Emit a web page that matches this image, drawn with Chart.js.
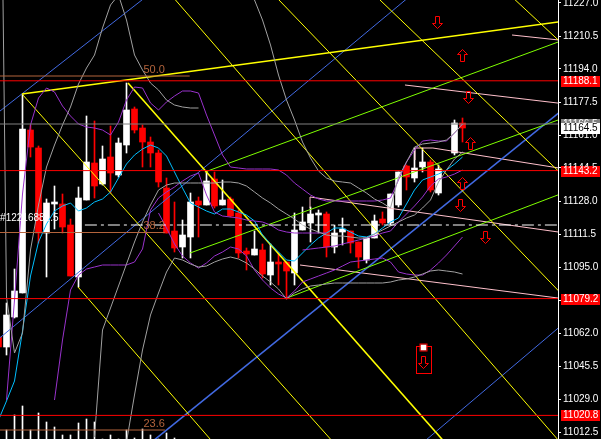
<!DOCTYPE html>
<html>
<head>
<meta charset="utf-8">
<script src="https://cdn.jsdelivr.net/npm/chart.js@4/dist/chart.umd.min.js"></script>
<style>
  html, body { margin: 0; padding: 0; background: #000; }
  #wrap { width: 601px; height: 439px; }
</style>
</head>
<body>
<div id="wrap"><canvas id="c" width="601" height="439"></canvas></div>
<script>
// candles, first one is index -1 (cut by the left edge)
const FIRST = -1;
const opens  = [11060,11055,11070,11082,11163.5,11154.5,11112,11126.5,11126.5,11116,11090,11128.5,11147,11136.5,11150,11141,11156,11174,11164.5,11157.5,11152,11134.5,11113,11105,11110,11128,11126,11139,11126,11129,11122,11103,11101,11103.5,11091,11097.5,11097.5,11092,11113.5,11117,11121,11121.5,11105,11112.5,11113,11107.5,11098.5,11109.5,11119,11117,11126,11145.5,11139.5,11145,11147.5,11132,null,11152,11167];
const highs  = [11061.5,11077,11094,11181.5,11166,11155.5,11129,11135.5,11131.5,11119,11135,11170.5,11168,11155.5,11165.5,11159.5,11187,11175,11166,11160,11153.5,11139.5,11127.5,11118.5,11132,11130,11143,11142.5,11138.5,11130,11123.5,11104.5,11113,11106.5,11106.5,11102,11097.5,11122,11125,11125,11123.5,11122.5,11116,11119.5,11113,11107.5,11109.5,11121,11122.5,11131.5,11142.5,11146,11154.5,11154.5,11148.5,11146,null,11168.5,11169.5];
const lows   = [11053.5,11051,11069.5,11082,11150,11107,11090,11114,11112,11090.5,11085,11128.5,11129.5,11136,11132,11140,11152,11162,11145,11145,11135,11112,11102.5,11099.5,11099.5,11110,11126,11124.5,11126,11120,11099.5,11093.5,11101,11089.5,11086,11086,11079,11086,11113.5,11107.5,11112,11100,11102,11106,11102,11094.5,11097,11109.5,11116,11116,11125,11133.5,11137.5,11142.5,11132.5,11131,null,11151,11157.5];
const closes = [11055,11071,11083,11164,11155,11112,11127,11127.5,11115,11090.5,11129.5,11147.5,11135.5,11149,11142,11157,11173.5,11163.5,11157.5,11152,11137.5,11112,11104.5,11111,11127.5,11126,11138,11125.5,11128.5,11120.5,11102,11101.5,11104,11091.5,11097.5,11096.5,11093,11113.5,11117.5,11121.5,11122,11105,11112,11114,11107,11100,11109.5,11118,11117,11131.5,11142.5,11140,11144.5,11147.5,11133.5,11144,null,11167,11164.5];
const volumes = [0,9,24,33,9,26,17,12,4,4,16,20,17,0,4,0,9,1,10,4,0,6,1];

// indicator curves, one value per candle from the given start index
const maStart = -1;
const maVals = [11018.5,11028,11038,11063,11090.5,11107.5,11116.5,11123,11125.5,11127,11123,11124.5,11127.5,11129,11132.5,11139.5,11146.5,11151,11154,11156,11154.5,11150.5,11142.5,11134.5,11127,11125,11123,11121.5,11124,11124,11122.5,11121,11118,11111,11106.5,11102.5,11098.5,11098,11102,11106,11109.5,11112,11114.5,11114.5,11112.5,11110.5,11110,11111.5,11114.5,11117.5,11119.5,11126.5,11133.5,11138.5,11140,11141.5,11143.5,11146.5,11150];
const envAStart = 0;
const envAVals = [11028.5,11078.5,11131.5,11166,11179.5,11184.5,11182.5,11175.5,11170.5,11166.5,11165,11164.5,11163.5,11161,11167.5,11178.5,11185,11184.5,11177,11173.5,11177.5,11180.5,11183,11183,11182,11171,11161,11151,11145,11144.5,11144,11144,11144,11144,11143.5,11141,11137,11134,11131,11129,11128,11128,11128,11128,11128,11128,11128,11128.5,11129.5,11138.5,11147.5,11153.5,11158,11158.5,11158,11158,11162,11166.5];
const envBStart = 6;
const envBVals = [11028.5,11058.5,11083.5,11091,11094,11095,11096,11096,11096,11096,11097.5,11104,11123.5,11129.5,11132.5,11135,11138,11140.5,11142,11131,11122.5,11120.5,11120,11119.5,11118.5,11118,11117.5,11116,11113.5,11112.5,11112,11112,11112,11112,11112];
const envCStart = 19;
const envCVals = [11122,11114.5,11106.5,11100.5,11097,11094.5,11097,11100.5,11102.5,11105,11104,11100.5,11093.5,11088.5,11084.5,11081.5,11079.5,11083,11087.5,11089,11090.5,11092,11093.5,11095.5,11097.5,11098,11098.5,11099,11099.5,11097.5,11092.5,11091.5,11091,11091,11093.5,11097,11101,11105.5,11110];
const envDStart = 37;
const envDVals = [11103.5,11104,11104.5,11105,11105.5,11106.5,11107.5,11108.5,11109.5,11110.5,11112,11113,11117.5,11121.5,11125.5,11130,11135.5,11139,11140,11141.5,11143.5];
const bandAStart = -1;
const bandAVals = [11420,11080,11052,11062,11103.5,11126,11145,11156,11166,11175,11186.5,11194.5,11201,11214.5,11226,11231,11218.5,11201,11193.5,11187,11183.5,11178.5,11176,11175,11174.5,11174.5];
const bandBStart = 30;
const bandBVals = [11232,11228.5,11218.5,11206,11191,11178.5,11168.5,11157.5,11149.5,11143,11139.5,11138,11137.5,11137,11134.5,11132,11129,11127,11124.5,11140,11147.5,11155,11156.5,11157,11157.5,11158.5,11162,11166.5];
const bandCStart = 11;
const bandCVals = [11010,11063.5,11074.5,11085.5,11096.5,11107.5,11117.5,11126,11133.5,11136,11137,11137,11137,11137,11137,11137,11137.5,11137.5,11137,11135.5,11132.5,11129.5,11127,11124,11121.5,11119,11116,11114,11112.5,11111,11110.5,11110.5,11110,11109.5,11109.5,11111.5,11113.5,11115.5,11117.5,11119.5,11121,11124.5,11128.5,11137.5,11143.5,11149,11152.5];
const bandDStart = 15;
const bandDVals = [11007.5,11031,11053.5,11071,11082,11092.5,11099.5,11098.5,11096.5,11095,11095.5,11097.5,11099,11100,11099,11097,11094,11090.5,11087.5,11084,11079,11082,11084,11085.5,11086,11086.5,11087,11087,11087,11087,11087,11087,11087,11087.5,11088.5,11089,11090,11091.5,11093,11093.5,11093,11092.5,11091.5];

// drawn objects: [bar index, price] end points
const yellowThin = [
  [[1.94,11181.5],[42.5,11000]],
  [[8.94,11085],[27.4,11000]],
  [[20.8,11230],[69.5,11006]],
  [[33.7,11230],[69.5,11081]],
  [[46.3,11230],[69.5,11141]],
  [[63.2,11230],[69.5,11206.5]]
];
const yellowThick = [
  [[1.94,11181.5],[69.5,11217.8]],
  [[15.19,11187],[56.4,11000]]
];
const greenLines = [
  [[22.94,11102],[69.5,11169.3]],
  [[24.8,11142.5],[69.5,11208.3]],
  [[35.06,11079.5],[69.5,11131.9]]
];
const blueThin = [
  [[-1,11059],[50.3,11230]],
  [[-1,11172.4],[17.5,11230.3]],
  [[52,11007],[69.5,11066.3]]
];
const blueThick = [
  [[18,11007],[69.5,11173.6]]
];
const pinkLines = [
  [[63.19,11211],[69.5,11208.3]],
  [[49.81,11186],[69.5,11176.7]],
  [[51.06,11148.5],[51.06,11154.5],[53.3,11154.5]],
  [[53.3,11154.5],[69.5,11144.2]],
  [[37.94,11124.5],[37.94,11130],[69.5,11112.2]],
  [[36.69,11096],[69.5,11079.2]]
];
const redLevels = [11188.1, 11143.2, 11079.2, 11020.8];
const grayLevel = 11166.5;
const dashLevel = 11116;
const dashFrom = 9.8;
const fibLevels = [11190.5, 11112.25, 11013.5];
const fibNames = ['50.0', '38.2', '23.6'];
const fibEnds = [22.9, 19.8, 19.8];
const fibTextAt = 19.8;
const arrowIdx = [53.81, 56.94, 57.69, 57.94, 56.94, 56.69, 59.81];
const arrowPrice = [11217.5, 11201, 11180, 11157, 11137, 11126, 11110];
const arrowDir = ['down', 'up', 'down', 'up', 'up', 'down', 'down'];
const stopIdx = 52.0, stopPrice = 11049;
const tickValues = [11012.5,11029.0,11045.5,11062.0,11078.5,11095.0,11111.5,11128.0,11144.5,11161.0,11177.5,11194.0,11210.5,11227.0];
const tags = [
  { p: 11166.5, bg: '#808080', fg: '#ffffff' },
  { p: 11188.1, bg: '#ff0000', fg: '#ffffff' },
  { p: 11143.2, bg: '#ff0000', fg: '#ffffff' },
  { p: 11079.2, bg: '#ff0000', fg: '#ffffff' },
  { p: 11020.8, bg: '#ff0000', fg: '#ffffff' },
  { p: 11164.5, bg: '#ffffff', fg: '#000000' }
];
const labelText = '#12216881.5';
const labelIdx = -0.8, labelPrice = 11119.5;

const idxs = opens.map((_, k) => FIRST + k);
const live = idxs.map((_, k) => k).filter(k => opens[k] != null);
const candleColor = live.map(k => closes[k] >= opens[k] ? '#ffffff' : '#ff0000');

function curve(start, vals) {
  return vals.map((v, k) => ({ x: start + k, y: v }));
}
function seg(pts) {
  return pts.map(p => ({ x: p[0], y: p[1] }));
}
function lineDs(data, color, width, extra) {
  return Object.assign({ type: 'line', data, borderColor: color, borderWidth: width,
    pointRadius: 0, tension: 0, fill: false, order: 1, yAxisID: 'y' }, extra || {});
}

const datasets = [];
datasets.push({ type: 'bar', data: volumes.map((v, k) => ({ x: FIRST + k, y: v })), yAxisID: 'yv',
  backgroundColor: '#ffffff', barThickness: 1, grouped: false, order: 12 });
datasets.push({ type: 'bar', data: live.map(k => ({ x: idxs[k], y: [lows[k], highs[k]] })),
  backgroundColor: candleColor, barThickness: 1, grouped: false, order: 11, yAxisID: 'y' });
datasets.push({ type: 'bar', data: live.map(k => ({ x: idxs[k], y: [opens[k], closes[k]] })),
  backgroundColor: candleColor, barThickness: 6, minBarLength: 1, grouped: false, order: 10, yAxisID: 'y' });

// fib levels
fibLevels.forEach((v, k) => datasets.push(lineDs(seg([[-1, v], [fibEnds[k], v]]), '#b4643c', 1)));
// horizontal levels
datasets.push(lineDs(seg([[-1, grayLevel], [70, grayLevel]]), '#808080', 1));
redLevels.forEach(v => datasets.push(lineDs(seg([[-1, v], [70, v]]), '#ff0000', 1)));
datasets.push(lineDs(seg([[dashFrom, dashLevel], [70, dashLevel]]), '#ffffff', 1, { borderDash: [12, 4, 3, 4] }));

// indicator curves
datasets.push(lineDs(curve(bandAStart, bandAVals), '#a0a0a0', 1));
datasets.push(lineDs(curve(bandBStart, bandBVals), '#a0a0a0', 1));
datasets.push(lineDs(curve(bandCStart, bandCVals), '#a0a0a0', 1));
datasets.push(lineDs(curve(bandDStart, bandDVals), '#a0a0a0', 1));
datasets.push(lineDs(curve(envAStart, envAVals), '#9932cc', 1));
datasets.push(lineDs(curve(envBStart, envBVals), '#9932cc', 1));
datasets.push(lineDs(curve(envCStart, envCVals), '#9932cc', 1));
datasets.push(lineDs(curve(envDStart, envDVals), '#9932cc', 1));
datasets.push(lineDs(curve(maStart, maVals), '#00bfff', 1));

// trend / fan lines
yellowThin.forEach(l => datasets.push(lineDs(seg(l), '#ffff00', 1)));
yellowThick.forEach(l => datasets.push(lineDs(seg(l), '#ffff00', 1.6)));
greenLines.forEach(l => datasets.push(lineDs(seg(l), '#7fff00', 1)));
blueThin.forEach(l => datasets.push(lineDs(seg(l), '#4169e1', 1)));
blueThick.forEach(l => datasets.push(lineDs(seg(l), '#4169e1', 1.6)));
pinkLines.forEach(l => datasets.push(lineDs(seg(l), '#ffc0cb', 1)));

function arrow(ctx, cx, cy, dir) {
  const s = dir === 'up' ? -1 : 1;
  ctx.beginPath();
  ctx.moveTo(cx, cy + 6 * s);
  ctx.lineTo(cx + 5, cy + s);
  ctx.lineTo(cx + 2, cy + s);
  ctx.lineTo(cx + 2, cy - 6 * s);
  ctx.lineTo(cx - 2, cy - 6 * s);
  ctx.lineTo(cx - 2, cy + s);
  ctx.lineTo(cx - 5, cy + s);
  ctx.closePath();
  ctx.stroke();
}

const bgPlugin = {
  id: 'bg',
  beforeDraw(chart) {
    const ctx = chart.ctx;
    ctx.save();
    ctx.fillStyle = '#000';
    ctx.fillRect(0, 0, chart.width, chart.height);
    ctx.restore();
  }
};

const marks = {
  id: 'marks',
  afterDatasetsDraw(chart) {
    const ctx = chart.ctx, xs = chart.scales.x, ys = chart.scales.y;
    ctx.save();
    ctx.font = '11px "Liberation Sans"';
    ctx.fillStyle = '#b4643c';
    ctx.textAlign = 'right';
    ctx.textBaseline = 'bottom';
    fibLevels.forEach((v, k) => ctx.fillText(fibNames[k], xs.getPixelForValue(fibTextAt), ys.getPixelForValue(v) - 1));

    ctx.font = '10px "Liberation Sans"';
    ctx.fillStyle = '#ffffff';
    ctx.textAlign = 'left';
    ctx.textBaseline = 'middle';
    ctx.fillText(labelText, xs.getPixelForValue(labelIdx), ys.getPixelForValue(labelPrice));

    ctx.strokeStyle = '#ff0000';
    ctx.lineWidth = 1;
    arrowIdx.forEach((v, k) => {
      const cx = Math.round(xs.getPixelForValue(v)) + 0.5;
      const cy = Math.round(ys.getPixelForValue(arrowPrice[k])) + 0.5;
      arrow(ctx, cx, cy, arrowDir[k]);
    });

    // stop sign box
    const sx = Math.round(xs.getPixelForValue(stopIdx)) + 0.5;
    const sy = Math.round(ys.getPixelForValue(stopPrice)) + 0.5;
    ctx.strokeRect(sx - 7, sy - 13, 15, 27);
    arrow(ctx, sx, sy + 3, 'down');
    ctx.fillStyle = '#ffffff';
    ctx.fillRect(sx - 3, sy - 15, 6, 6);
    ctx.strokeRect(sx - 3.5, sy - 15.5, 7, 7);
    ctx.restore();
  },
  afterDraw(chart) {
    const ctx = chart.ctx, ys = chart.scales.y, right = chart.chartArea.right;
    ctx.save();
    ctx.font = '10px "Liberation Sans"';
    ctx.textAlign = 'left';
    ctx.textBaseline = 'middle';
    ctx.fillStyle = '#ffffff';
    tickValues.forEach(v => ctx.fillText(v.toFixed(1), right + 5, Math.round(ys.getPixelForValue(v)) + 0.5));
    const left = right + 3;
    tags.forEach(t => {
      const y = Math.round(ys.getPixelForValue(t.p));
      ctx.fillStyle = t.bg;
      ctx.fillRect(left, y - 5, chart.width - left - 1, 11);
      ctx.fillStyle = t.fg;
      ctx.fillText(t.p.toFixed(1), left + 2, y + 0.5);
    });
    ctx.restore();
  }
};

new Chart(document.getElementById('c'), {
  type: 'line',
  data: { datasets },
  plugins: [bgPlugin, marks],
  options: {
    responsive: false,
    animation: false,
    devicePixelRatio: 1,
    layout: { padding: 0 },
    plugins: { legend: { display: false }, tooltip: { enabled: false } },
    scales: {
      x: { type: 'linear', min: -0.8125, max: 68.9375, display: false, offset: false },
      y: {
        position: 'right', min: 11009, max: 11228.5,
        afterBuildTicks: s => { s.ticks = tickValues.map(v => ({ value: v })); },
        afterFit: s => { s.width = 43; },
        grid: { drawOnChartArea: false, color: '#ffffff', tickLength: 3 },
        border: { display: true, color: '#ffffff', width: 1 },
        ticks: { display: false }
      },
      yv: { display: false, min: 0, max: 439 }
    }
  }
});
</script>
</body>
</html>
